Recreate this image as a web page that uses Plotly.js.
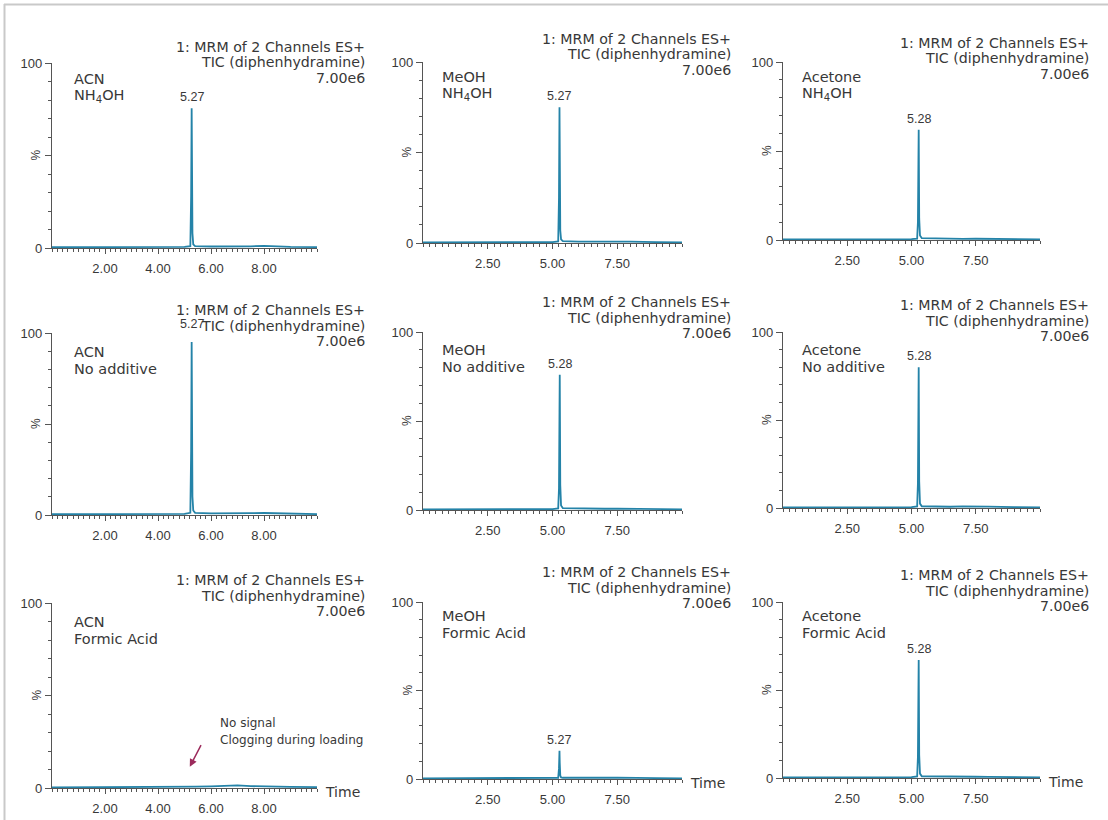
<!DOCTYPE html>
<html>
<head>
<meta charset="utf-8">
<script src="https://cdn.plot.ly/plotly-3.0.1.min.js"></script>
<style>
  html, body { margin: 0; padding: 0; background: #ffffff; }
  #chart { width: 1108px; height: 820px; }
</style>
</head>
<body>
<div id="chart"></div>
<script>
// ---------------- DATA ----------------
const solvents = ['ACN', 'MeOH', 'Acetone'];
const additives = ['NH<sub>4</sub>OH', 'No additive', 'Formic Acid'];
const titleLines = ['1: MRM of 2 Channels ES+', 'TIC (diphenhydramine)', '7.00e6'];
const xTickValsCol = [[2, 4, 6, 8], [2.5, 5, 7.5], [2.5, 5, 7.5]];
const xTickTextCol = [['2.00', '4.00', '6.00', '8.00'], ['2.50', '5.00', '7.50'], ['2.50', '5.00', '7.50']];

// retention time (min)
const time = [0.0, 1.0, 2.0, 3.0, 4.0, 5.0, 5.22, 5.25, 5.27, 5.28, 5.30, 5.33, 5.40, 6.0, 6.5, 7.0, 7.5, 8.0, 9.0, 10.0];

// intensity (%), row by row: NH4OH, No additive, Formic Acid; columns ACN, MeOH, Acetone
const acnNH4OH      = [0.4, 0.4, 0.5, 0.4, 0.5, 0.6, 1.0, 28, 75.5, 40, 8, 2.0, 1.0, 0.8, 0.7, 0.8, 0.9, 1.2, 0.6, 0.5];
const meohNH4OH     = [0.3, 0.3, 0.4, 0.4, 0.4, 0.5, 0.9, 25, 75, 38, 7, 2.0, 1.0, 0.8, 0.9, 1.0, 1.1, 0.8, 0.5, 0.4];
const acetoneNH4OH  = [0.3, 0.3, 0.3, 0.4, 0.4, 0.5, 0.8, 10, 45, 62, 12, 2.5, 1.0, 0.7, 0.6, 0.6, 0.7, 0.6, 0.5, 0.4];
const acnNone       = [0.4, 0.4, 0.4, 0.5, 0.5, 0.6, 1.2, 35, 95, 50, 10, 2.5, 1.2, 0.9, 0.8, 0.9, 1.0, 1.1, 0.6, 0.5];
const meohNone      = [0.3, 0.3, 0.4, 0.4, 0.4, 0.5, 0.9, 12, 55, 76, 14, 2.5, 1.0, 0.8, 0.7, 0.7, 0.8, 0.7, 0.5, 0.4];
const acetoneNone   = [0.3, 0.3, 0.3, 0.4, 0.4, 0.5, 0.9, 14, 58, 80, 15, 2.5, 1.0, 0.8, 0.7, 0.9, 1.0, 0.8, 0.5, 0.4];
const acnFormic     = [0.3, 0.3, 0.4, 0.4, 0.5, 0.5, 0.5, 0.6, 0.6, 0.6, 0.6, 0.6, 0.7, 0.9, 1.2, 1.4, 1.0, 0.8, 0.6, 0.5];
const meohFormic    = [0.3, 0.3, 0.3, 0.4, 0.4, 0.5, 0.7, 6, 16, 9, 2, 0.9, 0.7, 0.6, 0.6, 0.7, 0.8, 0.6, 0.5, 0.4];
const acetoneFormic = [0.3, 0.3, 0.3, 0.4, 0.4, 0.5, 0.9, 12, 50, 67, 13, 2.5, 1.0, 0.8, 0.7, 0.7, 0.7, 0.6, 0.5, 0.4];

const series = [acnNH4OH, meohNH4OH, acetoneNH4OH, acnNone, meohNone, acetoneNone, acnFormic, meohFormic, acetoneFormic];
const peakLabels = ['5.27', '5.27', '5.28', '5.27', '5.28', '5.28', null, '5.27', '5.28'];

// ---------------- LAYOUT GEOMETRY (pixels) ----------------
const W = 1108, H = 820;
const px = v => v / W;
const py = v => 1 - v / H;
const colX = [[52, 317], [423, 682], [783, 1040]];
const tops = [63, 62, 62, 333, 332, 332, 603, 602, 602];
const bottoms = [248, 243, 240, 515, 510, 508, 788, 779, 778];
const titleRight = [367, 733, 1091];
const titleY = [47, 39, 43, 310, 302, 305, 580, 572, 575];
const labelLeft = [72, 440, 800];
const labelY = [79, 77, 77, 352, 350, 350, 622, 616, 616];
const peakShift = [2, 2, 2, 9, 2, 2, 2, 2, 2];

const textColor = '#383838';
const axisColor = '#555555';
const traceColor = '#2483a8';
const tFont = 'DejaVu Sans, Verdana, sans-serif';
const tickFontFam = 'Liberation Sans, Arial, sans-serif';

const traces = [];
const layout = {
  width: W, height: H,
  margin: {l: 0, r: 0, t: 0, b: 0},
  paper_bgcolor: '#ffffff', plot_bgcolor: 'rgba(0,0,0,0)',
  showlegend: false,
  annotations: [],
  shapes: [
    {type: 'line', xref: 'paper', yref: 'paper', x0: px(4), x1: 1, y0: py(4.5), y1: py(4.5), line: {color: '#c9c9c9', width: 2}},
    {type: 'line', xref: 'paper', yref: 'paper', x0: px(4.5), x1: px(4.5), y0: py(4), y1: 0, line: {color: '#c9c9c9', width: 2}}
  ]
};

for (let i = 0; i < 9; i++) {
  const r = Math.floor(i / 3), c = i % 3;
  const n = i === 0 ? '' : String(i + 1);
  const xa = 'x' + n, ya = 'y' + n;
  traces.push({
    x: time, y: series[i], xaxis: xa, yaxis: ya,
    type: 'scatter', mode: 'lines',
    line: {color: traceColor, width: 1.8},
    hoverinfo: 'skip'
  });

  layout['xaxis' + n] = {
    domain: [px(colX[c][0]), px(colX[c][1])],
    anchor: ya, range: [0, 10],
    showgrid: false, zeroline: false, showline: true, linecolor: axisColor, linewidth: 1.2,
    ticks: 'outside', ticklen: 5, tickcolor: axisColor, tickwidth: 1,
    tickmode: 'array', tickvals: xTickValsCol[c], ticktext: xTickTextCol[c],
    ticklabelstandoff: 3,
    minor: {dtick: c === 0 ? 0.2 : 0.25, tick0: 0, ticks: 'outside', ticklen: 3, tickcolor: axisColor, tickwidth: 1, showgrid: false},
    tickfont: {family: tickFontFam, size: 13, color: textColor},
    fixedrange: true
  };
  layout['yaxis' + n] = {
    domain: [py(bottoms[i]), py(tops[i])],
    anchor: xa, range: [0, 100],
    showgrid: false, zeroline: false, showline: true, linecolor: axisColor, linewidth: 1.2,
    ticks: 'outside', ticklen: 6, tickcolor: axisColor, tickwidth: 1,
    tickmode: 'array', tickvals: [0, 50, 100], ticktext: ['0', '', '100'],
    minor: {dtick: 10, tick0: 0, ticks: 'outside', ticklen: 3, tickcolor: axisColor, tickwidth: 1, showgrid: false},
    tickfont: {family: tickFontFam, size: 13, color: textColor},
    fixedrange: true
  };

  // "%" label on the y axis
  layout.annotations.push({
    xref: 'paper', yref: ya, x: px(colX[c][0] - 16), y: 50,
    text: '%', textangle: -90, showarrow: false,
    xanchor: 'center', yanchor: 'middle',
    font: {family: tickFontFam, size: 12, color: textColor}
  });

  // instrument title lines (right aligned)
  titleLines.forEach((t, k) => {
    layout.annotations.push({
      xref: 'paper', yref: 'paper', x: px(titleRight[c]), y: py(titleY[i] + k * 15.5),
      text: t, showarrow: false, xanchor: 'right', yanchor: 'middle',
      font: {family: tFont, size: 14.2, color: textColor}
    });
  });

  // solvent / additive labels
  [solvents[c], additives[r]].forEach((t, k) => {
    layout.annotations.push({
      xref: 'paper', yref: 'paper', x: px(labelLeft[c]), y: py(labelY[i] + k * 17),
      text: t, showarrow: false, xanchor: 'left', yanchor: 'middle',
      font: {family: tFont, size: 14.5, color: textColor}
    });
  });

  // peak label at the apex
  if (peakLabels[i]) {
    const vals = series[i];
    let m = 0;
    for (let k = 1; k < vals.length; k++) if (vals[k] > vals[m]) m = k;
    layout.annotations.push({
      xref: xa, yref: ya, x: time[m], y: vals[m],
      text: peakLabels[i], showarrow: false, xanchor: 'center', yanchor: 'bottom', yshift: peakShift[i],
      font: {family: tickFontFam, size: 12.5, color: textColor}
    });
  }

  // "Time" label on bottom row
  if (r === 2) {
    layout.annotations.push({
      xref: 'paper', yref: ya, x: px(colX[c][1] + 6), y: 0,
      text: 'Time', showarrow: false, xanchor: 'left', yanchor: 'middle', yshift: -4,
      font: {family: tFont, size: 14, color: textColor}
    });
  }
}

// "No signal" note with arrow in ACN / Formic Acid panel
layout.annotations.push({
  xref: 'x7', yref: 'y7', x: 5.2, y: 11.5, ax: 12, ay: -23,
  text: '', showarrow: true, arrowhead: 2, arrowsize: 1, arrowwidth: 1.5, arrowcolor: '#9c2b5c'
});
layout.annotations.push({
  xref: 'paper', yref: 'paper', x: px(218), y: py(723),
  text: 'No signal', showarrow: false, xanchor: 'left', yanchor: 'middle',
  font: {family: tFont, size: 12, color: textColor}
});
layout.annotations.push({
  xref: 'paper', yref: 'paper', x: px(218), y: py(740),
  text: 'Clogging during loading', showarrow: false, xanchor: 'left', yanchor: 'middle',
  font: {family: tFont, size: 12, color: textColor}
});

Plotly.newPlot('chart', traces, layout, {displayModeBar: false, staticPlot: true});
</script>
</body>
</html>
